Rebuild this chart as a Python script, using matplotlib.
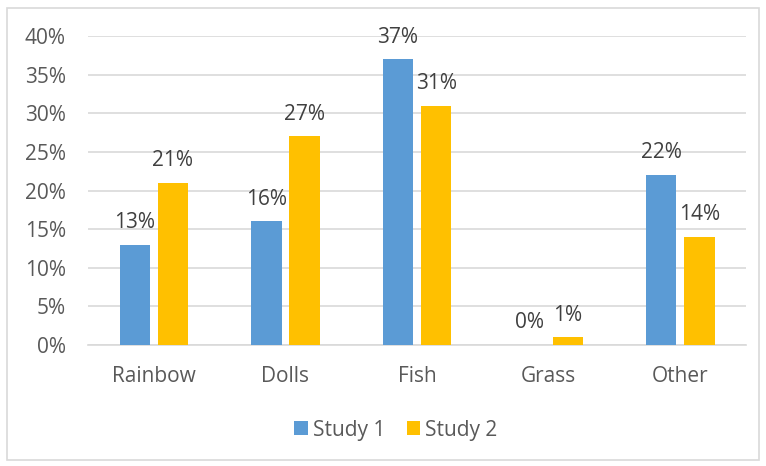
import numpy as np
import matplotlib.pyplot as plt
from matplotlib.patches import Rectangle

categories = ['Rainbow', 'Dolls', 'Fish', 'Grass', 'Other']
study1 = [13, 16, 37, 0, 22]
study2 = [21, 27, 31, 1, 14]
yticks = [0, 5, 10, 15, 20, 25, 30, 35, 40]

plt.rcParams['font.family'] = ['Open Sans', 'DejaVu Sans']
grey = '#595959'
fs = 15

fig = plt.figure(figsize=(7.66, 4.66), dpi=100)
ax = fig.add_axes([0.115, 0.2597, 0.859, 0.663])

# outer chart frame
fig.patches.append(Rectangle((7 / 766, 6 / 466), 752 / 766, 452 / 466, transform=fig.transFigure,
                             fill=False, edgecolor='#d9d9d9', linewidth=1.2))

x = np.arange(len(categories))
w = 0.23
gap = 0.06
b1 = ax.bar(x - (w + gap) / 2, study1, w, color='#5b9bd5', label='Study 1', zorder=3)
b2 = ax.bar(x + (w + gap) / 2, study2, w, color='#ffc000', label='Study 2', zorder=3)

for bars, vals in ((b1, study1), (b2, study2)):
    for r, v in zip(bars, vals):
        ax.annotate(f'{v}%', (r.get_x() + r.get_width() / 2, v), xytext=(0, 12),
                    textcoords='offset points', ha='center', va='baseline',
                    fontsize=fs, color='#404040')

ax.set_xlim(-0.5, 4.5)
ax.set_ylim(0, 40)
ax.set_yticks(yticks)
ax.set_yticklabels([f'{t}%' for t in yticks])
ax.set_xticks(x)
ax.set_xticklabels(categories)
ax.grid(axis='y', color='#d9d9d9', linewidth=1.2, zorder=0)
ax.tick_params(axis='both', length=0, labelsize=fs, labelcolor=grey)
ax.tick_params(axis='x', pad=15)
ax.tick_params(axis='y', pad=16)
for s in ['top', 'right', 'left']:
    ax.spines[s].set_visible(False)
ax.spines['bottom'].set_color('#d9d9d9')
ax.spines['bottom'].set_linewidth(1.2)

fig.legend(loc='center', bbox_to_anchor=(0.517, 0.077), ncol=2, frameon=False,
           fontsize=fs, labelcolor=grey, handlelength=0.66, handleheight=0.66,
           handletextpad=0.25, columnspacing=1.0)

fig.savefig('out.png', dpi=100)
